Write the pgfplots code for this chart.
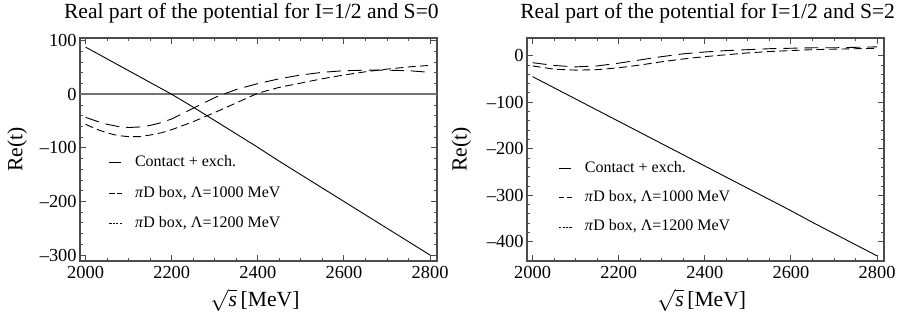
\documentclass[border=0pt]{standalone}
\usepackage{fontspec}
\setmainfont{Liberation Serif}
\usepackage{pgfplots}
\pgfplotsset{compat=1.18}

\pgfplotstableread{
x c l1 l2
2000 88 -43 -56
2025 77 -50 -65
2050 66 -56 -72
2075 55 -60 -77
2100 44 -62 -79
2125 33 -61 -79
2150 22 -58 -76
2175 11 -53 -72
2200 0 -46 -66
2250 -24 -26 -51
2300 -49 -6 -34
2350 -74 9 -16
2400 -99 20 2
2450 -125 29 13
2500 -150 36 21
2550 -175 41 29
2600 -200 44 36
2650 -225 45 42
2700 -250 45 47
2750 -275 44 51
2800 -300 41 54
}\left

\pgfplotstableread{
x c l1 l2
2000 -45 -15 -22
2050 -69 -21 -29
2100 -93 -24 -31
2150 -117 -22 -30
2200 -141 -16 -26
2250 -165 -9 -20
2300 -189 -2 -13
2350 -213 4 -7
2400 -237 8 -2
2450 -261 11 2
2500 -285 13 6
2550 -309 15 9
2600 -333 16 11
2650 -358 17 13
2700 -382 17 14
2750 -406 18 15
2800 -430 19 16
}\right

\pgfplotsset{
  mystyle/.style={
    scale only axis,
    width=178.5pt, height=111.5pt,
    anchor=south west,
    axis line style={black!70, line width=0.6pt},
    tick style={black!70, line width=0.5pt},
    tick align=inside,
    major tick length=3pt,
    minor tick length=1.6pt,
    xmin=1987, xmax=2816,
    xtick={2000,2200,2400,2600,2800},
    minor x tick num=3,
    minor y tick num=4,
    /pgf/number format/assume math mode=true,
    /pgf/number format/1000 sep={},
    ticklabel style={font=\fontsize{9.2}{10}\selectfont},
    xticklabel style={inner sep=2.5pt},
    yticklabel style={inner sep=1.5pt},
    every axis title shift=0pt,
    title style={font=\fontsize{10.8}{12}\selectfont, anchor=center},
    label style={font=\fontsize{10.8}{12}\selectfont},
    xlabel={$\sqrt{\textit{s}}$\,[MeV]},
    ylabel={Re(t)},
    legend cell align=left,
    legend style={draw=none, fill=none, anchor=north west,
      font=\fontsize{8}{9}\selectfont, row sep=5.9pt, column sep=5pt, inner sep=0pt,
      nodes={inner sep=1.2pt}},
    legend image code/.code={\draw[#1] (0pt,0pt) -- (6pt,0pt);},
    clip=false,
  },
  contact/.style={black, line width=0.45pt},
  dA/.style={black, line width=0.45pt, dash pattern=on 7pt off 3.5pt,
    legend image code/.code={\draw[black, line width=0.4pt, dash pattern=on 2.6pt off 1.2pt] (0pt,0pt) -- (6.4pt,0pt);}},
  dB/.style={black, line width=0.45pt, dash pattern=on 4pt off 2.2pt,
    legend image code/.code={\draw[black, line width=0.35pt, dash pattern=on 1.1pt off 0.6pt] (0pt,0pt) -- (6.4pt,0pt);}},
}

\begin{document}
\begin{tikzpicture}
\useasboundingbox (0,0) rectangle (450.5pt,161.5pt);

\begin{axis}[mystyle,
  at={(40pt,31pt)},
  ymin=-311, ymax=105,
  ytick={-300,-200,-100,0,100},
  yticklabels={–300,–200,–100,0,100},
  title={Real part of the potential for I=1/2 and S=0},
  title style={at={(axis description cs:0.48,1.112)}},
  xlabel style={at={(axis description cs:0.49,-0.175)}, anchor=center},
  ylabel style={at={(axis description cs:-0.176,0.5)}, anchor=center, rotate=0},
  legend style={at={(axis description cs:0.08,0.487)}},
]
\addplot[black!55, line width=0.8pt, forget plot] coordinates {(1987,0) (2816,0)};
\addplot[contact] table[x=x, y=c] {\left};
\addlegendentry{Contact + exch.}
\addplot[dA] table[x=x, y=l1] {\left};
\addlegendentry{\textit{π}D box, Λ=1000 MeV}
\addplot[dB] table[x=x, y=l2] {\left};
\addlegendentry{\textit{π}D box, Λ=1200 MeV}
\end{axis}

\begin{axis}[mystyle,
  at={(263.5pt,31pt)},
  ymin=-441, ymax=38,
  ytick={-400,-300,-200,-100,0},
  yticklabels={–400,–300,–200,–100,0},
  title={Real part of the potential for I=1/2 and S=2},
  title style={at={(axis description cs:0.506,1.112)}},
  xlabel style={at={(axis description cs:0.489,-0.175)}, anchor=center},
  ylabel style={at={(axis description cs:-0.184,0.5)}, anchor=center, rotate=0},
  legend style={at={(axis description cs:0.088,0.46)}, row sep=5.2pt},
]
\addplot[contact] table[x=x, y=c] {\right};
\addlegendentry{Contact + exch.}
\addplot[dA] table[x=x, y=l1] {\right};
\addlegendentry{\textit{π}D box, Λ=1000 MeV}
\addplot[dB] table[x=x, y=l2] {\right};
\addlegendentry{\textit{π}D box, Λ=1200 MeV}
\end{axis}
\end{tikzpicture}
\end{document}
